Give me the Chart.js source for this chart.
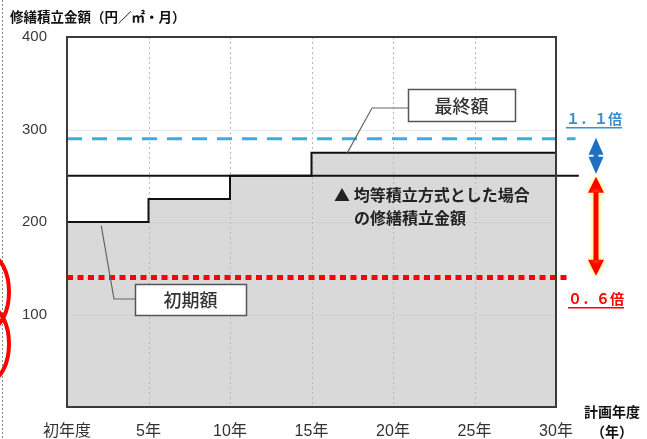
<!DOCTYPE html>
<html>
<head>
<meta charset="utf-8">
<script src="https://cdn.jsdelivr.net/npm/chart.js@4.4.1/dist/chart.umd.min.js"></script>
<style>
  html, body { margin: 0; padding: 0; background: #fff; }
  #wrap { width: 647px; height: 439px; position: relative; }
</style>
</head>
<body>
<div id="wrap"><canvas id="c" width="647" height="439"></canvas></div>
<script>
// 計画年度 (years) and 修繕積立金額 (円/㎡・月)
const years = [0, 5, 10, 15, 30];
const planAmount = [200, 225, 250, 275, 275];
const levelYears = [0, 31.4];
const levelAmount = [250, 250];
const upperYears = [0, 31.2];
const upperAmount = [290, 290];
const lowerYears = [0, 30.7];
const lowerAmount = [140, 140];
const xTickLabels = ['初年度', '5年', '10年', '15年', '20年', '25年', '30年'];
const yTickLabels = ['', '100', '200', '300', '400'];

const JP = '"Noto Sans CJK JP", sans-serif';
const pts = (xs, ys) => xs.map((x, i) => ({ x: x, y: ys[i] }));

// grid lines drawn on top of the grey fill but under the lines
const gridPlugin = {
  id: 'gridOverFill',
  afterDatasetDraw(chart, args) {
    if (args.index !== 0) return;
    const { ctx, chartArea: a, scales: { x, y } } = chart;
    ctx.save();
    ctx.lineWidth = 1;
    ctx.strokeStyle = '#b8b8b8';
    ctx.setLineDash([2, 3]);
    x.ticks.forEach(t => {
      if (t.value <= 0 || t.value >= 30) return;
      const px = Math.round(x.getPixelForValue(t.value)) + 0.5;
      ctx.beginPath(); ctx.moveTo(px, a.top); ctx.lineTo(px, a.bottom); ctx.stroke();
    });
    ctx.setLineDash([]);
    ctx.strokeStyle = 'rgba(200,200,200,0.45)';
    y.ticks.forEach(t => {
      if (t.value <= 0 || t.value >= 400) return;
      const py = Math.round(y.getPixelForValue(t.value)) + 0.5;
      ctx.beginPath(); ctx.moveTo(a.left, py); ctx.lineTo(a.right, py); ctx.stroke();
    });
    ctx.restore();
  }
};

function tri(ctx, x, tipY, dir, w, h) {
  ctx.beginPath();
  ctx.moveTo(x, tipY);
  ctx.lineTo(x - w / 2, tipY + dir * h);
  ctx.lineTo(x + w / 2, tipY + dir * h);
  ctx.closePath();
  ctx.fill();
}

function callout(ctx, text, x1, y1, x2, y2) {
  ctx.fillStyle = '#fff';
  ctx.fillRect(x1, y1, x2 - x1, y2 - y1);
  ctx.strokeStyle = '#555';
  ctx.lineWidth = 1.5;
  ctx.strokeRect(x1 + 0.5, y1 + 0.5, x2 - x1, y2 - y1);
  ctx.fillStyle = '#333';
  ctx.font = '500 18px ' + JP;
  ctx.textAlign = 'center';
  ctx.textBaseline = 'middle';
  ctx.fillText(text, (x1 + x2) / 2, (y1 + y2) / 2 + 1);
}

const decoPlugin = {
  id: 'deco',
  afterDatasetsDraw(chart) {
    const { ctx, chartArea: a, scales: { x, y } } = chart;
    ctx.save();

    // plot frame
    ctx.strokeStyle = '#3a3a3a';
    ctx.lineWidth = 2;
    ctx.strokeRect(a.left, a.top, a.right - a.left, a.bottom - a.top);

    // leader lines
    ctx.strokeStyle = '#666';
    ctx.lineWidth = 1.2;
    ctx.beginPath();
    ctx.moveTo(x.getPixelForValue(17.2), y.getPixelForValue(275));
    ctx.lineTo(372, 108);
    ctx.lineTo(408, 108);
    ctx.stroke();
    ctx.beginPath();
    ctx.moveTo(x.getPixelForValue(2.1), y.getPixelForValue(196));
    ctx.lineTo(114, 299);
    ctx.lineTo(135, 299);
    ctx.stroke();

    callout(ctx, '最終額', 408, 89, 515, 121);
    callout(ctx, '初期額', 135, 284, 246, 315);

    // level-payment text
    ctx.fillStyle = '#222';
    ctx.font = 'bold 16px ' + JP;
    ctx.textAlign = 'left';
    ctx.textBaseline = 'middle';
    ctx.fillText('▲ 均等積立方式とした場合', 334, 195);
    ctx.fillText('の修繕積立金額', 354, 218);

    // blue double arrow (1.1倍)
    const ax = 596;
    const bTop = y.getPixelForValue(291), bBot = y.getPixelForValue(252);
    const bMid = (bTop + bBot) / 2;
    ctx.fillStyle = '#1f6fc0';
    tri(ctx, ax, bTop, 1, 15, bMid - bTop - 1);
    tri(ctx, ax, bBot, -1, 15, bBot - bMid - 1);
    ctx.fillRect(ax - 2.5, bMid - 3, 5, 6);

    // red double arrow (0.6倍)
    const rTop = y.getPixelForValue(249), rBot = y.getPixelForValue(142);
    ctx.shadowColor = 'rgba(255,235,0,0.9)';
    ctx.shadowBlur = 4;
    ctx.fillStyle = '#ff0000';
    tri(ctx, ax, rTop, 1, 16, 16);
    tri(ctx, ax, rBot, -1, 16, 16);
    ctx.fillRect(ax - 2.5, rTop + 15, 5, rBot - rTop - 30);
    ctx.shadowBlur = 0;
    ctx.shadowColor = 'transparent';

    // ratio labels
    ctx.font = 'bold 14px ' + JP;
    ctx.textAlign = 'left';
    ctx.fillStyle = '#3d8fd0';
    ctx.fillText('１．１倍', 566, 119);
    ctx.fillRect(566, 127, ctx.measureText('１．１倍').width, 1.5);
    ctx.fillStyle = '#ff0000';
    ctx.fillText('０．６倍', 568, 299);
    ctx.fillRect(568, 307, ctx.measureText('０．６倍').width, 1.5);

    // axis titles
    ctx.fillStyle = '#111';
    ctx.font = 'bold 13.5px ' + JP;
    ctx.fillText('修繕積立金額（円／㎡・月）', 10, 17);
    ctx.textAlign = 'center';
    ctx.font = 'bold 14px ' + JP;
    ctx.fillText('計画年度', 612, 412);
    ctx.fillText('（年）', 612, 432);

    // page-edge marks
    ctx.strokeStyle = '#888';
    ctx.lineWidth = 1;
    ctx.setLineDash([2, 2]);
    ctx.beginPath(); ctx.moveTo(2.5, 0); ctx.lineTo(2.5, 439); ctx.stroke();
    ctx.setLineDash([]);
    ctx.strokeStyle = '#ff0000';
    ctx.lineWidth = 4;
    ctx.beginPath(); ctx.ellipse(-10, 292, 19, 36, 0, 0, Math.PI * 2); ctx.stroke();
    ctx.beginPath(); ctx.ellipse(-10, 344, 19, 36, 0, 0, Math.PI * 2); ctx.stroke();

    ctx.restore();
  }
};

new Chart(document.getElementById('c'), {
  type: 'line',
  data: {
    datasets: [
      { data: pts(years, planAmount), stepped: true, fill: 'origin', backgroundColor: '#d9d9d9',
        borderWidth: 0, pointRadius: 0, order: 10 },
      { data: pts(years, planAmount), stepped: true, fill: false, borderColor: '#111',
        borderWidth: 2, pointRadius: 0, order: 3 },
      { data: pts(levelYears, levelAmount), fill: false, borderColor: '#111',
        borderWidth: 2, pointRadius: 0, clip: false, order: 2 },
      { data: pts(upperYears, upperAmount), fill: false, borderColor: '#3aaee0',
        borderWidth: 3, borderDash: [15, 10], pointRadius: 0, clip: false, order: 1 },
      { data: pts(lowerYears, lowerAmount), fill: false, borderColor: '#ff0000',
        borderWidth: 5, borderDash: [6, 4.5], pointRadius: 0, clip: false, order: 0 }
    ]
  },
  options: {
    responsive: false,
    animation: false,
    devicePixelRatio: 1,
    layout: { padding: { top: 37, right: 91, left: 0, bottom: 0 } },
    plugins: { legend: { display: false }, tooltip: { enabled: false } },
    scales: {
      x: {
        type: 'linear', min: 0, max: 30,
        afterFit: s => { s.height = 32; },
        grid: { display: false, drawTicks: false },
        border: { display: false },
        ticks: {
          stepSize: 5, padding: 15, maxRotation: 0, color: '#333',
          font: { size: 16, family: '"Liberation Sans", ' + JP },
          callback: (v, i) => xTickLabels[i]
        }
      },
      y: {
        min: 0, max: 400,
        afterFit: s => { s.width = 67; },
        grid: { display: false, drawTicks: false },
        border: { display: false },
        ticks: {
          stepSize: 100, padding: 20, color: '#3a3a3a',
          font: { size: 15, family: '"Liberation Sans", sans-serif' },
          callback: (v, i) => yTickLabels[i]
        }
      }
    }
  },
  plugins: [gridPlugin, decoPlugin]
});
</script>
</body>
</html>
